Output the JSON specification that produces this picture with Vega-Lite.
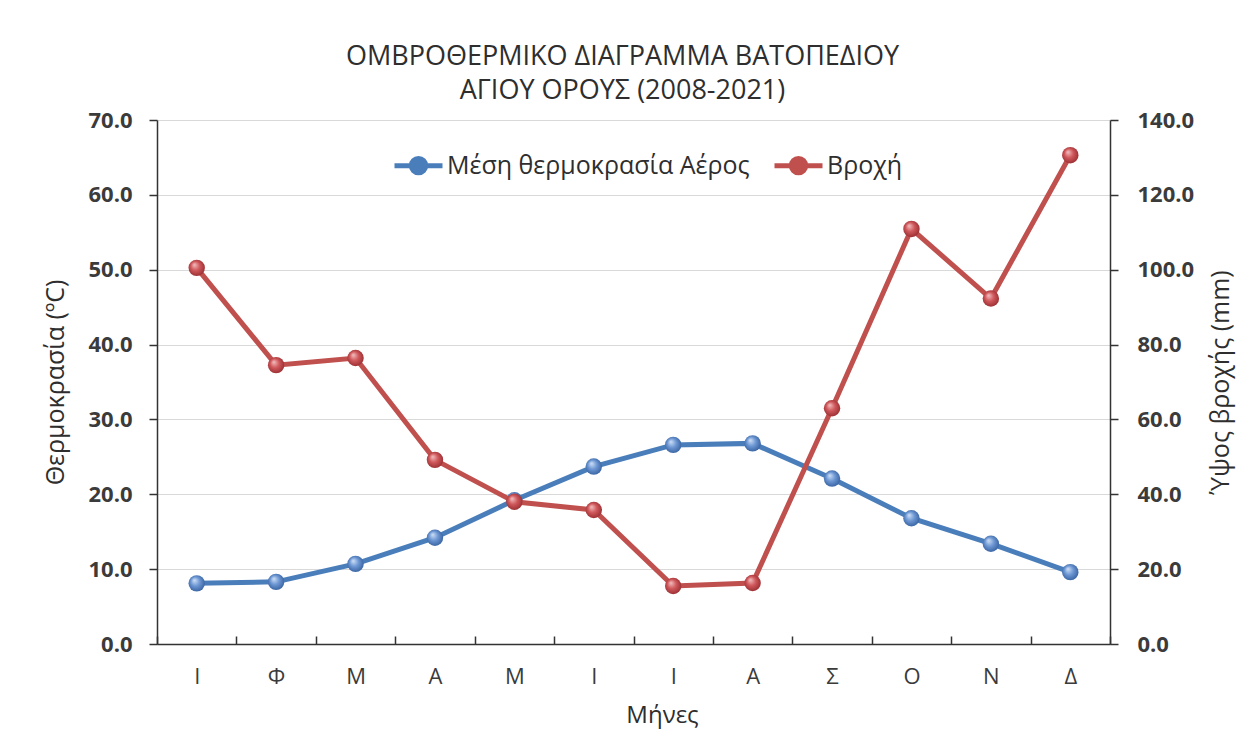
{
  "$schema": "https://vega.github.io/schema/vega-lite/v6.json",
  "width": 953,
  "height": 524,
  "autosize": {"type": "none"},
  "padding": {"left": 157, "top": 120, "right": 137, "bottom": 103},
  "background": "white",
  "title": {
    "text": ["ΟΜΒΡΟΘΕΡΜΙΚΟ ΔΙΑΓΡΑΜΜΑ ΒΑΤΟΠΕΔΙΟΥ", "ΑΓΙΟΥ ΟΡΟΥΣ (2008-2021)"],
    "font": "Open Sans",
    "fontSize": 27,
    "fontWeight": "normal",
    "color": "#2e2e2e",
    "lineHeight": 34,
    "anchor": "middle",
    "offset": 4,
    "dx": -11
  },
  "data": {
    "values": [
      {"month": "Ιαν", "temp": 8.1, "rain": 100.5},
      {"month": "Φεβ", "temp": 8.3, "rain": 74.5},
      {"month": "Μαρ", "temp": 10.7, "rain": 76.4},
      {"month": "Απρ", "temp": 14.2, "rain": 49.2},
      {"month": "Μαΐ", "temp": 19.2, "rain": 38.0},
      {"month": "Ιουν", "temp": 23.7, "rain": 35.8},
      {"month": "Ιουλ", "temp": 26.6, "rain": 15.5},
      {"month": "Αυγ", "temp": 26.8, "rain": 16.3},
      {"month": "Σεπ", "temp": 22.1, "rain": 63.0},
      {"month": "Οκτ", "temp": 16.8, "rain": 110.9},
      {"month": "Νοε", "temp": 13.4, "rain": 92.3},
      {"month": "Δεκ", "temp": 9.6, "rain": 130.6}
    ]
  },
  "encoding": {
    "x": {
      "field": "month",
      "type": "ordinal",
      "sort": ["Ιαν", "Φεβ", "Μαρ", "Απρ", "Μαΐ", "Ιουν", "Ιουλ", "Αυγ", "Σεπ", "Οκτ", "Νοε", "Δεκ"],
      "scale": {"paddingInner": 0, "paddingOuter": 0},
      "axis": {
        "title": "Μήνες",
        "titleFont": "Open Sans",
        "titleFontSize": 24,
        "titleFontWeight": "normal",
        "titleColor": "#2e2e2e",
        "titlePadding": 16,
        "titleX": 505,
        "labelFont": "Open Sans",
        "labelFontSize": 22,
        "labelColor": "#3b3b3b",
        "labelAngle": 0,
        "labelPadding": 30,
        "labelExpr": "datum.value ? substring(datum.value, 0, 1) : ''",
        "tickBand": "extent",
        "tickSize": -8,
        "tickColor": "#333333",
        "tickWidth": 1.5,
        "domainColor": "#333333",
        "domainWidth": 1.5,
        "grid": false
      }
    }
  },
  "layer": [
    {
      "encoding": {
        "y": {
          "field": "temp",
          "type": "quantitative",
          "scale": {"domain": [0, 70], "nice": false},
          "axis": {
            "orient": "left",
            "title": "Θερμοκρασία (ºC)",
            "titleFont": "Open Sans",
            "titleFontSize": 25,
            "titleFontWeight": "normal",
            "titleColor": "#2e2e2e",
            "titlePadding": 19,
            "values": [0, 10, 20, 30, 40, 50, 60, 70],
            "format": ".1f",
            "labelFont": "Open Sans",
            "labelFontSize": 22,
            "labelFontWeight": "bold",
            "labelColor": "#3b3b3b",
            "labelPadding": 17,
            "tickSize": 8,
            "tickColor": "#333333",
            "tickWidth": 1.5,
            "domainColor": "#333333",
            "domainWidth": 1.5,
            "grid": true,
            "gridColor": "#d9d9d9",
            "gridWidth": 1
          }
        }
      },
      "layer": [
        {
          "mark": {"type": "line", "strokeWidth": 5},
          "encoding": {
            "color": {
              "datum": "Μέση θερμοκρασία Αέρος",
              "type": "nominal",
              "scale": {"domain": ["Μέση θερμοκρασία Αέρος", "Βροχή"], "range": ["#4a7ebb", "#c0504d"]},
              "legend": {
                "orient": "none",
                "direction": "horizontal",
                "legendX": 235,
                "legendY": 19,
                "title": null,
                "padding": 0,
                "symbolType": "M-1,0H1M-0.3,0A0.3,0.3,0,1,0,0.3,0A0.3,0.3,0,1,0,-0.3,0Z",
                "symbolSize": 2304,
                "symbolStrokeWidth": 5,
                "labelFont": "Open Sans",
                "labelFontSize": 25,
                "labelColor": "#2e2e2e",
                "labelOffset": 2,
                "labelLimit": 500,
                "columnPadding": 14,
                "encode": {
                  "symbols": {
                    "update": {
                      "fill": {"scale": "color", "field": "value"},
                      "stroke": {"scale": "color", "field": "value"},
                      "opacity": {"value": 1}
                    }
                  }
                }
              }
            }
          }
        },
        {
          "mark": {
            "type": "point",
            "filled": true,
            "size": 270,
            "opacity": 1,
            "fill": {
              "gradient": "radial",
              "x1": 0.35, "y1": 0.3, "r1": 0,
              "x2": 0.5, "y2": 0.5, "r2": 0.6,
              "stops": [
                {"offset": 0, "color": "#d2e2f7"},
                {"offset": 0.45, "color": "#6e98d4"},
                {"offset": 1, "color": "#2c5896"}
              ]
            }
          },
          "encoding": {}
        }
      ]
    },
    {
      "encoding": {
        "y": {
          "field": "rain",
          "type": "quantitative",
          "scale": {"domain": [0, 140], "nice": false},
          "axis": {
            "orient": "right",
            "title": "Ύψος βροχής (mm)",
            "titleFont": "Open Sans",
            "titleFontSize": 25,
            "titleFontWeight": "normal",
            "titleColor": "#2e2e2e",
            "titleAngle": 270,
            "titleBaseline": "bottom",
            "titlePadding": 40,
            "values": [0, 20, 40, 60, 80, 100, 120, 140],
            "format": ".1f",
            "labelFont": "Open Sans",
            "labelFontSize": 22,
            "labelFontWeight": "bold",
            "labelColor": "#3b3b3b",
            "labelPadding": 19,
            "tickSize": 8,
            "tickColor": "#333333",
            "tickWidth": 1.5,
            "domainColor": "#333333",
            "domainWidth": 1.5,
            "grid": false
          }
        }
      },
      "layer": [
        {
          "mark": {"type": "line", "strokeWidth": 5},
          "encoding": {
            "color": {"datum": "Βροχή", "type": "nominal"}
          }
        },
        {
          "mark": {
            "type": "point",
            "filled": true,
            "size": 270,
            "opacity": 1,
            "fill": {
              "gradient": "radial",
              "x1": 0.35, "y1": 0.3, "r1": 0,
              "x2": 0.5, "y2": 0.5, "r2": 0.6,
              "stops": [
                {"offset": 0, "color": "#f3c2c2"},
                {"offset": 0.45, "color": "#d0585c"},
                {"offset": 1, "color": "#8e2629"}
              ]
            }
          },
          "encoding": {}
        }
      ]
    }
  ],
  "resolve": {"scale": {"y": "independent"}},
  "config": {"view": {"stroke": null}}
}
